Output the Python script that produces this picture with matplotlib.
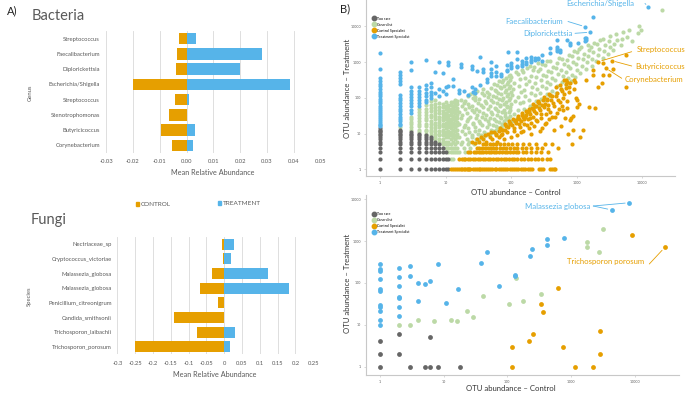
import matplotlib
matplotlib.use('Agg')
import matplotlib.pyplot as plt
from matplotlib.lines import Line2D
from matplotlib.patches import Rectangle
import numpy as np

plt.rcParams['font.family'] = ['Lato', 'DejaVu Sans']

ORANGE = '#E69F00'
BLUE = '#56B4E9'
GREEN = '#BCD9A6'
GRAY = '#666666'
TXT = '#595959'

# ---------------- Panel A data ----------------
bac_genus = ['Streptococcus', 'Faecalibacterium', 'Diplorickettsia', 'Escherichia/Shigella',
             'Streptococcus', 'Stenotrophomonas', 'Butyricicoccus', 'Corynebacterium']
bac_control = [-0.0027, -0.0036, -0.0039, -0.0201, -0.0043, -0.0065, -0.0094, -0.0053]
bac_treatment = [0.0034, 0.0282, 0.0199, 0.0384, 0.0008, 0.0003, 0.0030, 0.0023]
bac_ticks = [-0.03, -0.02, -0.01, 0.0, 0.01, 0.02, 0.03, 0.04, 0.05]
bac_ticklabels = ['-0.03', '-0.02', '-0.01', '0.00', '0.01', '0.02', '0.03', '0.04', '0.05']

fun_species = ['Nectriaceae_sp', 'Cryptococcus_victoriae', 'Malassezia_globosa', 'Malassezia_globosa',
               'Penicillium_citreonigrum', 'Candida_smithsonii', 'Trichosporon_laibachii', 'Trichosporon_porosum']
fun_control = [-0.0056, -0.0030, -0.0346, -0.0680, -0.0178, -0.1410, -0.0750, -0.2500]
fun_treatment = [0.0280, 0.0187, 0.1225, 0.1805, 0.0, 0.0, 0.0310, 0.0168]
fun_ticks = [-0.3, -0.25, -0.2, -0.15, -0.1, -0.05, 0.0, 0.05, 0.1, 0.15, 0.2, 0.25]
fun_ticklabels = ['-0.3', '-0.25', '-0.2', '-0.15', '-0.1', '-0.05', '0', '0.05', '0.1', '0.15', '0.2', '0.25']

# ---------------- Panel B (bacteria) data: (control, treatment) ----------------
rare_cols = [
    (1, [1, 2, 3, 4, 5, 6, 7, 8, 9, 10, 11, 12, 13, 14]),
    (2, [1, 2, 3, 4, 5, 6, 7, 8, 9, 10, 11, 12, 13]),
    (3, [1, 2, 3, 4, 5, 6, 7, 8, 9, 10, 11]),
    (4, [1, 2, 3, 4, 5, 6, 7, 8, 9, 10]),
    (5, [1, 2, 3, 4, 5, 6, 7, 8, 9]),
    (6, [1, 2, 3, 4, 5, 6, 7, 8]),
    (7, [1, 2, 3, 4, 5, 6]),
    (8, [1, 2, 3, 4, 5]),
    (9, [1, 2, 3, 4]),
    (10, [1, 2, 3]),
    (11, [1, 2]),
]

treat_cols = [
    (1, [16, 17, 19, 21, 24, 27, 31, 35, 40, 45, 52, 60, 70, 80, 95, 110, 130, 150, 180, 210, 250, 300, 370, 640, 1780]),
    (2, [17, 19, 22, 26, 30, 36, 42, 50, 60, 70, 85, 100, 120, 250, 300, 360, 430, 520]),
    (3, [38, 46, 58, 70, 85, 105, 130, 160, 200, 600, 1030]),
    (4, [58, 70, 85, 105, 130, 160, 200]),
    (5, [75, 90, 110, 140, 180, 230, 1150]),
    (6, [100, 120, 150, 200, 260]),
    (7, [140, 520]),
    (8, [110, 180, 1000]),
    (9, [160, 510]),
    (10, [130, 200]),
]
treat_pts = [(11, 1030), (11, 830), (11, 220), (13, 215), (13, 330), (16, 134), (16, 170), (17, 890), (17, 750),
             (19, 160), (22, 120), (25, 790), (25, 630), (26, 150), (25, 200), (28, 140), (28, 180), (30, 560),
             (34, 1420), (34, 230), (38, 650), (38, 520), (43, 280), (43, 330), (50, 1030), (50, 650), (50, 500),
             (50, 400), (60, 770), (60, 540), (60, 420), (70, 400), (70, 480), (86, 600), (91, 1970), (86, 850),
             (86, 560), (100, 700), (100, 950), (100, 800), (122, 1970), (122, 1200), (122, 800), (122, 750),
             (146, 1100), (146, 900), (146, 800), (170, 900), (170, 1300), (170, 1000), (200, 1400), (200, 1000),
             (200, 1150), (230, 1150), (230, 1300), (260, 1300), (260, 1200), (295, 1100), (295, 1600),
             (400, 2450), (400, 1800), (500, 4200), (500, 2400), (500, 2000), (500, 2700), (550, 1900),
             (550, 2200), (710, 4200), (800, 3500), (800, 3000), (1070, 3400), (1350, 9850), (1350, 4700),
             (1350, 3900), (1420, 4700), (1420, 4100), (1620, 6900), (1770, 18800), (12500, 35600)]

gen_cols = [
    (2, [15]),
    (3, [13, 15, 18, 21, 25, 30]),
    (4, [11, 13, 16, 18, 22, 27, 33, 40, 48]),
    (5, [10, 12, 13, 16, 19, 24, 28, 34, 41, 50, 62]),
    (6, [9, 11, 13, 15, 19, 23, 29, 34, 42, 53, 65, 80]),
    (7, [7, 8, 10, 12, 14, 17, 20, 25, 31, 37, 45, 56, 68, 85]),
    (8, [6, 7, 9, 10, 12, 15, 17, 21, 26, 30, 38, 45, 56, 70]),
    (9, [5, 6, 7, 9, 11, 13, 16, 19, 24, 29, 36, 44, 55, 66]),
    (10, [4, 5, 6, 8, 9, 11, 14, 16, 20, 25, 31, 38, 48, 60, 75]),
    (11, [3, 4, 5, 6, 8, 10, 12, 15, 18, 23, 27, 34, 43, 52, 65]),
    (12, [2, 3, 4, 5, 7, 9, 11, 14, 17, 21, 26, 33, 40, 50, 62, 78]),
    (13, [2, 3, 4, 6, 8, 10, 13, 16, 20, 25, 31, 39, 48, 60, 75]),
    (14, [3, 4, 5, 7, 9, 12, 15, 19, 24, 30, 37, 46, 58, 72, 90]),
    (15, [3, 4, 6, 8, 10, 13, 17, 21, 27, 34, 42, 53, 66, 84]),
]
gen_pts = [
    (16, 3), (17, 5), (16, 8), (18, 12), (16, 19), (17, 27), (16, 41), (18, 60), (17, 88),
    (19, 4), (18, 6), (20, 10), (19, 15), (21, 22), (18, 33), (20, 50), (19, 72), (22, 110),
    (20, 3), (22, 5), (21, 7), (23, 11), (20, 17), (22, 26), (21, 38), (23, 55), (20, 83), (24, 125),
    (24, 4), (23, 6), (25, 9), (22, 14), (26, 20), (24, 30), (25, 45), (22, 66), (26, 98),
    (27, 5), (25, 8), (28, 12), (26, 18), (29, 27), (27, 40), (25, 58), (28, 86), (27, 130),
    (30, 6), (29, 7), (31, 10), (28, 15), (32, 23), (30, 34), (29, 49), (31, 73), (28, 108), (30, 160),
    (33, 7), (35, 9), (32, 13), (34, 20), (36, 29), (33, 43), (35, 63), (32, 95), (36, 140),
    (38, 8), (37, 8), (39, 11), (36, 17), (40, 25), (38, 37), (37, 54), (40, 80), (39, 118), (37, 175),
    (42, 9), (41, 10), (43, 15), (45, 22), (41, 33), (44, 48), (42, 70), (45, 104), (43, 150),
    (47, 10), (49, 13), (46, 19), (48, 28), (50, 41), (47, 60), (49, 88), (46, 130), (50, 195),
    (52, 11), (54, 12), (53, 17), (55, 25), (52, 36), (56, 53), (54, 78), (53, 115), (57, 170), (55, 240),
    (58, 13), (60, 16), (59, 23), (61, 34), (58, 50), (62, 72), (60, 105), (59, 155), (62, 225),
    (64, 14), (66, 14), (65, 21), (67, 30), (64, 44), (68, 65), (66, 95), (63, 140), (67, 205), (65, 300),
    (70, 15), (72, 19), (71, 28), (73, 40), (69, 58), (74, 85), (71, 125), (70, 185), (73, 270),
    (76, 17), (78, 22), (80, 32), (77, 47), (79, 68), (75, 100), (81, 145), (78, 215), (76, 320),
    (83, 17), (85, 25), (82, 37), (86, 54), (84, 78), (87, 115), (83, 168), (86, 245), (84, 360),
    (89, 19), (91, 28), (93, 41), (88, 60), (92, 88), (90, 128), (94, 188), (89, 275), (92, 400),
    (96, 22), (98, 32), (95, 47), (99, 68), (97, 100), (100, 146), (96, 213), (98, 310), (95, 450),
    (105, 22), (110, 35), (98, 55), (115, 80), (102, 120), (108, 180), (112, 260), (100, 380), (118, 520),
    (125, 28), (130, 45), (135, 70), (128, 105), (140, 150), (132, 220), (138, 330), (126, 470), (145, 600),
    (150, 33), (160, 50), (155, 78), (165, 115), (158, 170), (170, 250), (162, 360), (152, 520), (175, 700),
    (185, 40), (195, 60), (190, 90), (200, 135), (210, 200), (188, 290), (205, 420), (215, 600), (195, 800),
    (225, 55), (240, 80), (230, 120), (250, 175), (235, 260), (245, 380), (260, 550), (228, 750), (255, 950),
    (270, 65), (290, 95), (280, 140), (300, 210), (285, 310), (310, 450), (275, 650), (295, 900),
    (330, 85), (350, 125), (340, 185), (360, 270), (345, 400), (370, 580), (335, 820), (355, 1100),
    (400, 110), (420, 160), (390, 240), (430, 350), (410, 520), (440, 750), (395, 1050),
    (480, 140), (500, 210), (470, 310), (520, 460), (490, 680), (510, 950), (540, 1300),
    (580, 180), (600, 270), (620, 400), (570, 600), (640, 880), (600, 1250),
    (700, 230), (730, 350), (690, 520), (750, 780), (710, 1150), (760, 1600),
    (820, 300), (860, 450), (800, 680), (880, 1000), (840, 1500), (900, 2000),
    (950, 380), (1000, 600), (980, 900), (1050, 1300), (1020, 1900), (1100, 2400),
    (1150, 500), (1200, 800), (1250, 1200), (1300, 1700), (1180, 2600),
    (1400, 650), (1450, 1000), (1500, 1500), (1550, 2200), (1480, 3000),
    (1700, 800), (1750, 1250), (1800, 1900), (1650, 2700), (1850, 3500),
    (2000, 1100), (2100, 1600), (2200, 2400), (2050, 3200), (2300, 4200),
    (2500, 1300), (2600, 2000), (2700, 3000), (2550, 4500),
    (3000, 1700), (3200, 2600), (3100, 3800), (3300, 5500),
    (3600, 2200), (3800, 3300), (4000, 6000), (4200, 4300),
    (4800, 3000), (5000, 4500), (5200, 6800),
    (6400, 7900), (6000, 5200), (7000, 4000),
    (8700, 6400), (8900, 10300), (9500, 8000),
    (20000, 29000),
]

ctrl_rows = [
    (1, [12, 13, 14, 15, 16, 17, 18, 19, 20, 21, 22, 23, 24, 26, 28, 30, 32, 34, 36, 39, 42, 45, 48, 52, 56,
         60, 65, 70, 76, 82, 88, 95, 103, 112, 121, 130, 140, 152, 165, 180, 195, 210, 265, 285, 305, 390,
         420, 450, 470]),
    (2, [16, 18, 19, 20, 22, 24, 26, 28, 31, 34, 37, 40, 44, 48, 53, 58, 64, 70, 77, 85, 93, 102, 112, 125,
         140, 160, 180, 200, 230, 260, 300, 360, 400]),
    (3, [22, 24, 27, 29, 32, 35, 38, 42, 46, 50, 55, 60, 66, 73, 80, 88, 97, 107, 118, 130, 150, 170, 200,
         240, 290, 370]),
    (4, [30, 33, 36, 40, 44, 49, 54, 60, 67, 75, 84, 95, 110, 125, 145, 170, 200, 250, 300]),
    (5, [38, 42, 47, 53, 60, 68, 78, 90, 105, 125, 150, 190, 240, 330, 430]),
]
ctrl_pts = [
    (25, 6), (28, 5.5), (30, 7), (33, 6), (35, 8), (38, 7), (40, 9), (42, 6), (45, 10), (48, 8), (50, 11),
    (52, 7), (55, 11), (58, 9), (60, 10), (62, 6), (65, 12), (68, 14), (70, 9), (72, 13), (75, 13), (78, 7),
    (80, 18), (84, 16), (88, 11), (90, 15), (94, 22), (98, 20), (100, 8), (104, 17), (108, 26), (112, 12),
    (115, 22), (120, 20), (124, 9), (128, 28), (132, 26), (136, 15), (140, 23), (145, 33), (150, 30),
    (155, 12), (160, 19), (165, 30), (170, 34), (175, 40), (180, 25), (185, 14), (190, 44), (195, 35),
    (200, 20), (210, 52), (215, 48), (220, 30), (225, 16), (230, 61), (240, 58), (245, 38), (250, 22),
    (260, 76), (270, 70), (275, 12), (280, 45), (290, 28), (300, 64), (310, 85), (320, 55), (330, 18),
    (340, 35), (350, 88), (360, 95), (370, 62), (380, 25), (390, 40), (400, 120),
    (66, 8), (74, 10), (82, 13), (96, 18), (110, 14), (118, 24), (126, 32), (134, 19), (142, 11), (148, 38),
    (158, 26), (168, 44), (178, 17), (188, 50), (198, 28), (205, 10), (218, 66), (228, 42), (238, 24),
    (255, 80), (265, 52), (285, 36), (295, 14), (315, 105), (325, 68), (345, 20), (365, 48), (385, 130),
    (410, 85), (430, 30), (460, 60), (490, 110), (510, 38), (560, 75), (575, 180), (610, 60), (640, 130),
    (660, 28), (690, 190), (720, 80), (760, 150), (820, 27), (870, 12.6), (650, 320), (720, 280),
    (800, 260), (900, 320), (980, 100), (1000, 55),
    (420, 110), (440, 70), (450, 13), (470, 30), (480, 200), (500, 140), (520, 90), (530, 4), (540, 50),
    (560, 230), (590, 16), (600, 160), (620, 100), (630, 46), (680, 250), (700, 320), (710, 52), (750, 10),
    (780, 200), (800, 24), (850, 5), (870, 32), (900, 180), (950, 280), (1000, 87), (1100, 66), (1120, 8),
    (1260, 12.6), (1400, 316), (1560, 55), (1770, 600), (1800, 440), (1900, 52), (2100, 205), (2160, 1030),
    (2450, 256), (2500, 930), (2500, 440), (2800, 680), (3160, 440), (3480, 1100), (3650, 640),
    (5700, 1600), (5700, 206),
]

# ---------------- Panel B (fungi) data ----------------
fun_rare = [(1, 1), (1, 2), (1, 4), (2, 2), (2, 6), (3, 1), (5, 1), (6, 1), (6, 5), (8, 1), (18, 1)]
fun_gen = [(2, 10), (3, 10), (4, 13), (7, 12), (13, 13), (16, 12), (23, 21), (29, 15), (42, 49), (107, 31),
           (136, 129), (174, 37), (333, 53), (1750, 730), (1800, 960), (2760, 550), (3200, 1900)]
fun_ctrl = [(117, 3), (120, 1), (220, 4), (255, 6), (340, 32), (356, 20), (615, 74), (745, 3), (1140, 1),
            (2230, 1), (2840, 2), (2890, 7), (8900, 1390), (29700, 710)]
fun_trt = [(1, 280), (1, 215), (1, 195), (1, 121), (1, 70), (1, 64), (1, 30), (1, 27), (1, 21), (1, 13),
           (1, 10), (2, 222), (2, 135), (2, 85), (2, 47), (2, 43), (2, 26), (2, 16), (3, 250), (3, 148),
           (4, 98), (4, 36), (5, 94), (6, 110), (8, 280), (11, 34), (17, 71), (38, 300), (47, 550), (75, 86),
           (132, 155), (132, 145), (226, 437), (240, 660), (415, 800), (425, 1100), (760, 1200),
           (4350, 5500), (8200, 8200)]

scatter_ticks = [1, 10, 100, 1000, 10000]
legend_labels = ['Too rare', 'Generalist', 'Control Specialist', 'Treatment Specialist']


def expand_cols(cols):
    return [(x, y) for x, ys in cols for y in ys]


def expand_rows(rows):
    return [(x, y) for y, xs in rows for x in xs]


W, H = 687, 394
fig = plt.figure(figsize=(W / 100, H / 100), dpi=100)


def ax_px(l, t, r, b):
    return fig.add_axes([l / W, 1 - b / H, (r - l) / W, (b - t) / H])


def fx(X):
    return X / W


def fy(Y):
    return 1 - Y / H


def bar_panel(ax, cats, ctrl, trt, ticks, ticklabels, height, ypad, xpad):
    y = np.arange(len(cats))
    ax.barh(y, ctrl, height=height, color=ORANGE, zorder=3)
    ax.barh(y, trt, height=height, color=BLUE, zorder=3)
    ax.set_ylim(len(cats) - 0.5, -0.5)
    ax.set_xlim(ticks[0], ticks[-1])
    ax.set_yticks(y)
    ax.set_yticklabels(cats)
    ax.set_xticks(ticks)
    ax.set_xticklabels(ticklabels)
    ax.grid(axis='x', color='#D9D9D9', lw=0.6, zorder=0)
    ax.set_axisbelow(True)
    for s in ax.spines.values():
        s.set_visible(False)
    ax.tick_params(axis='y', length=0, labelsize=4.2, labelcolor=TXT, pad=ypad)
    ax.tick_params(axis='x', length=0, labelsize=4.2, labelcolor=TXT, pad=xpad)


axb = ax_px(106, 31, 320.7, 153)
bar_panel(axb, bac_genus, bac_control, bac_treatment, bac_ticks, bac_ticklabels, 0.76, 4.3, 4.5)
axf = ax_px(117.3, 237, 313.3, 354)
bar_panel(axf, fun_species, fun_control, fun_treatment, fun_ticks, fun_ticklabels, 0.76, 4.0, 5.0)

fig.text(fx(7), fy(11), 'A)', fontsize=8, va='center', ha='left', color='#222222')
fig.text(fx(340), fy(9), 'B)', fontsize=8, va='center', ha='left', color='#222222')
fig.text(fx(32), fy(15.5), 'Bacteria', fontsize=10.5, va='center', ha='left', color=TXT)
fig.text(fx(30.5), fy(220), 'Fungi', fontsize=10.5, va='center', ha='left', color=TXT)
fig.text(fx(30.7), fy(93), 'Genus', fontsize=4.2, rotation=90, va='center', ha='center', color=TXT)
fig.text(fx(29.3), fy(296.7), 'Species', fontsize=4.2, rotation=90, va='center', ha='center', color=TXT)
fig.text(fx(213), fy(172.3), 'Mean Relative Abundance', fontsize=5.2, va='center', ha='center', color=TXT)
fig.text(fx(215), fy(374.3), 'Mean Relative Abundance', fontsize=5.2, va='center', ha='center', color=TXT)

# bar legend
for X, Y, col, lab in [(137.3, 204, ORANGE, 'CONTROL'), (219.5, 203, BLUE, 'TREATMENT')]:
    fig.patches.append(Rectangle((fx(X - 1.6), fy(Y + 1.6)), 3.2 / W, 3.2 / H, transform=fig.transFigure,
                                 color=col, figure=fig))
    fig.text(fx(X + 3), fy(Y), lab, fontsize=4.6, va='center', ha='left', color=TXT)


def scatter_panel(ax, groups, xlim, ylim, s):
    for pts, col in groups:
        xs = [p[0] for p in pts]
        ys = [p[1] for p in pts]
        ax.scatter(xs, ys, s=s, color=col, linewidths=0, zorder=3)
    ax.set_xscale('log')
    ax.set_yscale('log')
    ax.set_xlim(*xlim)
    ax.set_ylim(*ylim)
    ax.set_xticks(scatter_ticks)
    ax.set_xticklabels([str(t) for t in scatter_ticks])
    ax.set_yticks(scatter_ticks)
    ax.set_yticklabels([str(t) for t in scatter_ticks])
    ax.minorticks_off()
    for side in ['top', 'right']:
        ax.spines[side].set_visible(False)
    for side in ['left', 'bottom']:
        ax.spines[side].set_color('#C8C8C8')
        ax.spines[side].set_linewidth(0.8)
    ax.tick_params(length=1.5, width=0.5, color='#C8C8C8', labelsize=2.6, labelcolor='#555555', pad=2)
    handles = [Line2D([], [], marker='o', ls='', color=c, markersize=3.2)
               for c in [GRAY, GREEN, ORANGE, BLUE]]
    ax.legend(handles, legend_labels, loc='upper left', bbox_to_anchor=(0.015, 0.915), frameon=False,
              fontsize=2.6, handletextpad=0.2, labelspacing=0.55, borderpad=0, handlelength=1.0)


axt = ax_px(366, 0, 675, 175.7)
scatter_panel(axt, [(gen_pts + expand_cols(gen_cols), GREEN), (expand_cols(rare_cols), GRAY),
                    (ctrl_pts + expand_rows(ctrl_rows), ORANGE),
                    (treat_pts + expand_cols(treat_cols), BLUE)],
              (0.611, 31900), (0.662, 55200), 9)

axl = ax_px(366, 195, 679, 375)
scatter_panel(axl, [(fun_gen, GREEN), (fun_rare, GRAY), (fun_ctrl, ORANGE), (fun_trt, BLUE)],
              (0.603, 49400), (0.634, 12530), 12)

fig.text(fx(516), fy(192.5), 'OTU abundance \u2013 Control', fontsize=5.6, va='center', ha='center', color='#333333')
fig.text(fx(511), fy(388.3), 'OTU abundance \u2013 Control', fontsize=5.6, va='center', ha='center', color='#333333')
fig.text(fx(348), fy(88), 'OTU abundance \u2013 Treatment', fontsize=5.6, rotation=90, va='center', ha='center', color='#333333')
fig.text(fx(348), fy(283), 'OTU abundance \u2013 Treatment', fontsize=5.6, rotation=90, va='center', ha='center', color='#333333')

# annotations
ann_top = [
    ('Escherichia/Shigella', BLUE, 566.7, 3.5, 645, 3.5, (12500, 35600)),
    ('Faecalibacterium', BLUE, 505, 21.7, 568, 21.5, (1350, 9850)),
    ('Diplorickettsia', BLUE, 523.3, 33.3, 575, 33.3, (1620, 6900)),
    ('Streptococcus', ORANGE, 636.7, 49.3, 631.7, 51.7, (2160, 1030)),
    ('Butyricicoccus', ORANGE, 635, 67, 631.7, 66, (3480, 1100)),
    ('Corynebacterium', ORANGE, 625, 79.3, 621.7, 78.3, (2800, 680)),
]
for lab, col, tx, ty, lx, ly, pt in ann_top:
    fig.text(fx(tx), fy(ty), lab, fontsize=5.6, color=col, va='center', ha='left')
    axt.annotate('', xy=pt, xycoords='data', xytext=(fx(lx), fy(ly)), textcoords='figure fraction',
                 arrowprops=dict(arrowstyle='-', color=col, lw=0.6, shrinkA=0, shrinkB=2.5))

fig.text(fx(525), fy(206.7), 'Malassezia globosa', fontsize=5.6, color=BLUE, va='center', ha='left')
for pt in [(8200, 8200), (4350, 5500)]:
    axl.annotate('', xy=pt, xycoords='data', xytext=(fx(593.3), fy(206)), textcoords='figure fraction',
                 arrowprops=dict(arrowstyle='-', color=BLUE, lw=0.6, shrinkA=0, shrinkB=3))
fig.text(fx(566.7), fy(261.7), 'Trichosporon porosum', fontsize=5.6, color=ORANGE, va='center', ha='left')
axl.annotate('', xy=(29700, 710), xycoords='data', xytext=(fx(649.3), fy(264)), textcoords='figure fraction',
             arrowprops=dict(arrowstyle='-', color=ORANGE, lw=0.6, shrinkA=0, shrinkB=3))

fig.savefig('out.png', dpi=100)
